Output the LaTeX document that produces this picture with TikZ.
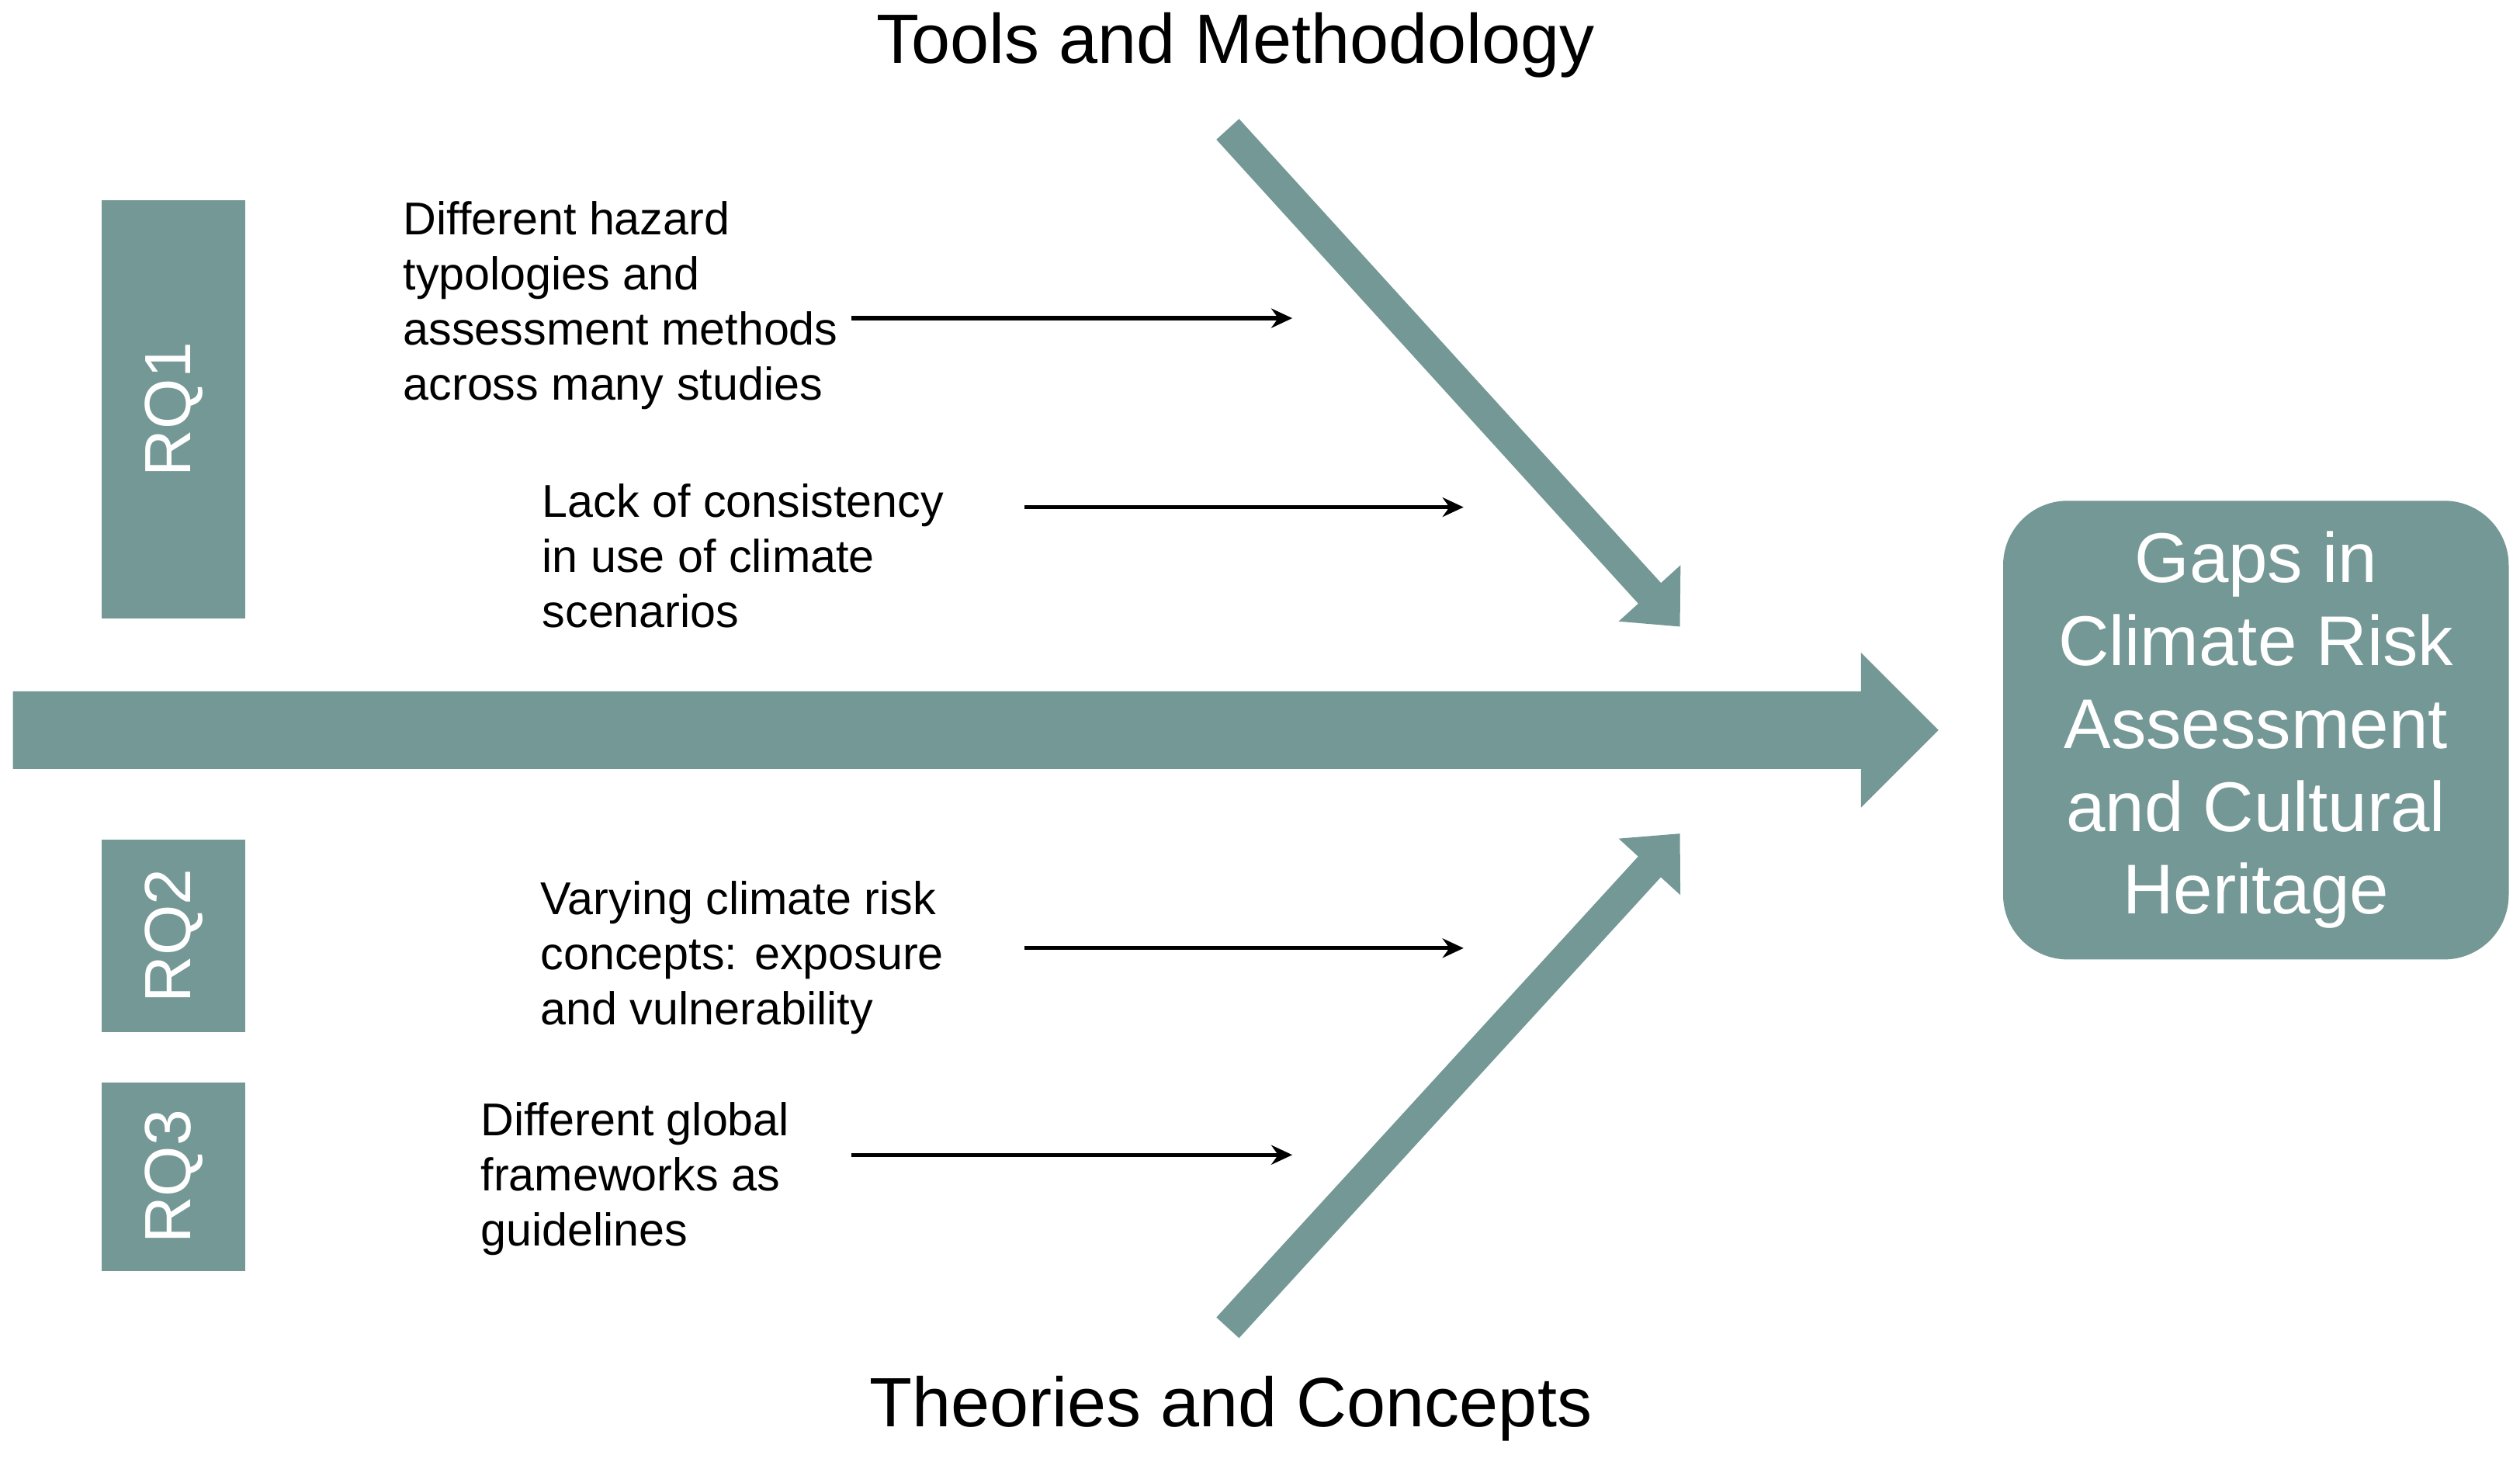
\documentclass[tikz,border=0pt]{standalone}
\usepackage{fontspec}
\setmainfont{Liberation Sans}
\usetikzlibrary{arrows.meta}
\definecolor{sage}{HTML}{749896}
\tikzset{
  rqbox/.style={fill=sage, text=white, font=\fontsize{11.5}{13}\selectfont},
  cause/.style={anchor=north west, align=left, inner sep=0pt, font=\fontsize{8.1}{9.7}\selectfont},
  smallarrow/.style={-{Stealth[length=0.13cm,width=0.12cm]}, line width=0.7pt},
  bone/.style={sage, line width=0.19cm, -{Triangle[length=0.28cm,width=0.5cm]}},
  title/.style={font=\fontsize{12.3}{15}\selectfont},
}
\begin{document}
\begin{tikzpicture}[x=1cm,y=1cm]
  \useasboundingbox (0,0) rectangle (15.6,9.05);
  % research question boxes
  \fill[sage] (0.63,5.22) rectangle (1.52,7.81) coordinate (rq1box);
  \node[rqbox, rotate=90] (rq1) at (1.075,6.515) {RQ1};
  \fill[sage] (0.63,2.66) rectangle (1.52,3.85);
  \node[rqbox, rotate=90] (rq2) at (1.075,3.255) {RQ2};
  \fill[sage] (0.63,1.18) rectangle (1.52,2.35);
  \node[rqbox, rotate=90] (rq3) at (1.075,1.765) {RQ3};
  % spine
  \fill[sage] (0.08,4.29) -- (11.52,4.29) -- (11.52,4.05) -- (12.0,4.53)
    -- (11.52,5.01) -- (11.52,4.77) -- (0.08,4.77) -- cycle;
  % effect
  \node[fill=sage, text=white, rounded corners=0.4cm, minimum width=3.13cm,
        minimum height=2.84cm, align=center,
        font=\fontsize{12.4}{14.6}\selectfont] (gaps) at (13.965,4.53)
        {Gaps in\\Climate Risk\\Assessment\\and Cultural\\Heritage};
  % diagonal bones
  \coordinate (topstart) at (7.6,8.25);
  \coordinate (topend) at (10.4,5.17);
  \coordinate (botstart) at (7.6,0.83);
  \coordinate (botend) at (10.4,3.89);
  \draw[bone] (topstart) -- (topend);
  \draw[bone] (botstart) -- (botend);
  \node[title] (tools) at (7.65,8.77) {Tools and Methodology};
  \node[title] (theories) at (7.62,0.33) {Theories and Concepts};
  % causes
  \node[cause] (c1) at (2.49,7.81) {Different hazard\\typologies and\\assessment methods\\across many studies};
  \node[cause] (c2) at (3.35,6.06) {Lack of consistency\\in use of climate\\scenarios};
  \node[cause] (c3) at (3.34,3.60) {Varying climate risk\\concepts: exposure\\and vulnerability};
  \node[cause] (c4) at (2.97,2.23) {Different global\\frameworks as\\guidelines};
  \coordinate (a1s) at (5.27,7.08); \coordinate (a1e) at (8.0,7.08);
  \coordinate (a2s) at (6.34,5.91); \coordinate (a2e) at (9.06,5.91);
  \coordinate (a3s) at (6.34,3.18); \coordinate (a3e) at (9.06,3.18);
  \coordinate (a4s) at (5.27,1.90); \coordinate (a4e) at (8.0,1.90);
  \foreach \i in {1,...,4} {
    \draw[smallarrow] (a\i s) -- (a\i e);
  }
\end{tikzpicture}
\end{document}
